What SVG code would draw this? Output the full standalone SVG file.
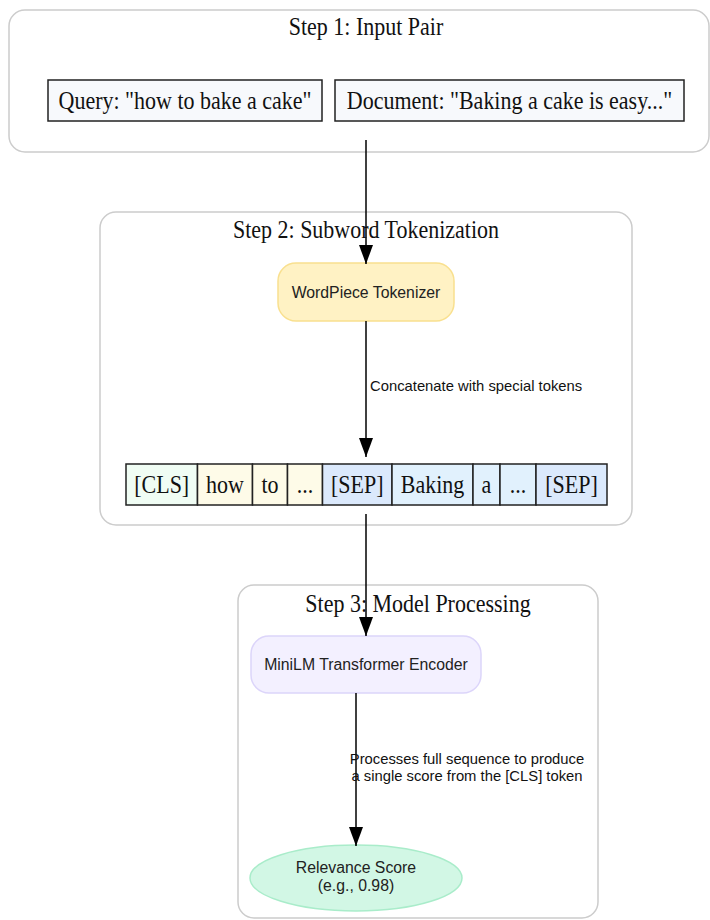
<svg xmlns="http://www.w3.org/2000/svg" width="710" height="920" viewBox="0 0 710 920">
  <style>
    .cluster { fill: #ffffff; stroke: #cccccc; stroke-width: 1.5; }
    .serif { font-family: "Liberation Serif", "Times New Roman", serif; font-size: 24.7px; fill: #111111; text-anchor: middle; }
    .box { stroke: #222222; stroke-width: 1.5; }
    .sans { font-family: "Liberation Sans", Arial, sans-serif; font-size: 15.8px; fill: #222222; text-anchor: middle; }
    .elabel { font-family: "Liberation Sans", Arial, sans-serif; font-size: 14.8px; fill: #111111; }
    .edge { stroke: #000000; stroke-width: 1.5; fill: none; }
  </style>
  <defs>
    <marker id="arrow" viewBox="0 0 19 14" refX="19" refY="7" markerWidth="19" markerHeight="14" markerUnits="userSpaceOnUse" orient="auto">
      <path d="M0,0 L19,7 L0,14 Z" fill="#000000"/>
    </marker>
  </defs>

  <rect width="710" height="920" fill="#ffffff"/>

  <!-- cluster frames; serif labels use a narrowed Times face -->
  <g id="cluster-step1">
    <rect class="cluster" x="9" y="10" width="700" height="142" rx="16"/>
    <text class="serif" transform="translate(366,35) scale(0.89,1)">Step 1: Input Pair</text>
  </g>
  <g id="cluster-step2">
    <rect class="cluster" x="100" y="212" width="532" height="313" rx="16"/>
    <text class="serif" transform="translate(366,238) scale(0.89,1)">Step 2: Subword Tokenization</text>
  </g>
  <g id="cluster-step3">
    <rect class="cluster" x="238" y="585" width="360" height="333" rx="16"/>
    <text class="serif" transform="translate(418,612) scale(0.89,1)">Step 3: Model Processing</text>
  </g>

  <!-- input nodes -->
  <g id="query">
    <rect class="box" x="48" y="80" width="274" height="41" fill="#f7f9fc"/>
    <text class="serif" transform="translate(185,109) scale(0.89,1)">Query: "how to bake a cake"</text>
  </g>
  <g id="document">
    <rect class="box" x="335" y="80" width="349" height="41" fill="#f7f9fc"/>
    <text class="serif" transform="translate(509.5,109) scale(0.89,1)">Document: "Baking a cake is easy..."</text>
  </g>

  <!-- tokenizer -->
  <g id="tokenizer">
    <rect x="278" y="263" width="176" height="58" rx="18" fill="#fff2c4" stroke="#f9e08f" stroke-width="1.5"/>
    <text class="sans" x="366" y="297.5">WordPiece Tokenizer</text>
  </g>

  <!-- token sequence -->
  <g id="tokens">
    <rect class="box" x="126" y="464" width="71.5" height="41" fill="#f0fdf4"/>
    <rect class="box" x="197.5" y="464" width="55" height="41" fill="#fefbe8"/>
    <rect class="box" x="252.5" y="464" width="35" height="41" fill="#fefbe8"/>
    <rect class="box" x="287.5" y="464" width="35" height="41" fill="#fefbe8"/>
    <rect class="box" x="322.5" y="464" width="69.5" height="41" fill="#dbe9fc"/>
    <rect class="box" x="392" y="464" width="81" height="41" fill="#e1f1fd"/>
    <rect class="box" x="473" y="464" width="27" height="41" fill="#e1f1fd"/>
    <rect class="box" x="500" y="464" width="36" height="41" fill="#e1f1fd"/>
    <rect class="box" x="536" y="464" width="71" height="41" fill="#dbe9fc"/>
    <text class="serif" transform="translate(161.7,493) scale(0.89,1)">[CLS]</text>
    <text class="serif" transform="translate(225,493) scale(0.89,1)">how</text>
    <text class="serif" transform="translate(270,493) scale(0.89,1)">to</text>
    <text class="serif" transform="translate(305,493) scale(0.89,1)">...</text>
    <text class="serif" transform="translate(357.2,493) scale(0.89,1)">[SEP]</text>
    <text class="serif" transform="translate(432.5,493) scale(0.89,1)">Baking</text>
    <text class="serif" transform="translate(486.5,493) scale(0.89,1)">a</text>
    <text class="serif" transform="translate(518,493) scale(0.89,1)">...</text>
    <text class="serif" transform="translate(571.5,493) scale(0.89,1)">[SEP]</text>
  </g>

  <!-- encoder -->
  <g id="encoder">
    <rect x="251" y="636" width="230" height="57" rx="18" fill="#f3f0ff" stroke="#dcd5fa" stroke-width="1.5"/>
    <text class="sans" x="366" y="669.5">MiniLM Transformer Encoder</text>
  </g>

  <!-- score -->
  <g id="score">
    <ellipse cx="356" cy="878" rx="106" ry="33" fill="#d2f7e5" stroke="#a9ecca" stroke-width="1.5"/>
    <text class="sans" x="356" y="873">Relevance Score</text>
    <text class="sans" x="356" y="891">(e.g., 0.98)</text>
  </g>

  <!-- connectors -->
  <g id="edges">
    <line class="edge" x1="366" y1="140" x2="366" y2="264" marker-end="url(#arrow)"/>
    <line class="edge" x1="366" y1="321" x2="366" y2="457" marker-end="url(#arrow)"/>
    <text class="elabel" x="370" y="391">Concatenate with special tokens</text>
    <line class="edge" x1="366" y1="514" x2="366" y2="636" marker-end="url(#arrow)"/>
    <line class="edge" x1="356" y1="693" x2="356" y2="846" marker-end="url(#arrow)"/>
    <text class="elabel" x="467" y="764" text-anchor="middle">Processes full sequence to produce</text>
    <text class="elabel" x="467" y="781" text-anchor="middle">a single score from the [CLS] token</text>
  </g>
</svg>
